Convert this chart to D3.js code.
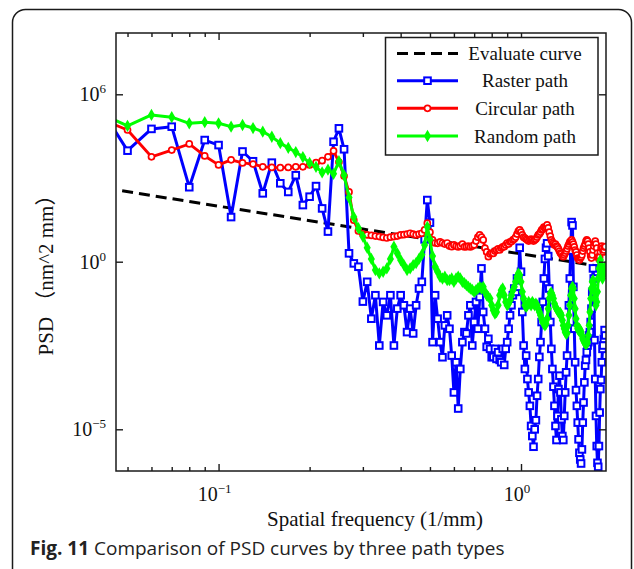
<!DOCTYPE html>
<html>
<head>
<meta charset="utf-8">
<script src="https://cdn.jsdelivr.net/npm/d3@7"></script>
<style>
  body { margin: 0; background: #fff; }
  svg { display: block; }
</style>
</head>
<body>
<svg id="chart" width="634" height="569"></svg>
<script>
// Sampling grid of the spectra (1/mm)
const freqStart = 0.04;
const freqStep = 0.01;

// log10 PSD (nm^2 mm) for each path type, one value per frequency sample
const rasterPath = [
  5.65, 3.98, 4.76, 4.84, 2.67, 4.36, 4.18, 1.6, 3.95, 3.6,
  2.45, 3.55, 2.81, 2.5, 3.1, 2.03, 2.33, 2.71, 1.91, 1.08,
  4.3, 4.78, 4.03, 0.3, -0.05, -0.15, -1.19, -0.6, -1.7, -1.0,
  -2.5, -1.2, -1.6, -1.0, -2.5, -1.4, -1.0, -1.3, -2.1, -1.4,
  -2.14, -1.3, -0.8, -0.6, 0.8, 2.21, 1.4, -2.4, -1.0, -1.7,
  -2.4, -2.85, -1.9, -1.6, -2.0, -2.8, -3.9, -3.0, -4.38, -3.2,
  -2.4, -2.1, -2.14, -1.6, -1.3, -2.5, -1.8, -1.2, -2.0, -1.05,
  -0.2, -1.5, -2.0, -2.54, -2.3, -2.6, -2.85, -2.84, -2.6, -2.9,
  -2.7, -2.93, -3.0, -2.6, -3.08, -2.6, -2.4, -2.0, -1.6, -1.3,
  -1.0, -0.8, -0.9, -0.5, -0.75, 0.5, -0.3, -1.5, -2.5, -3.2,
  -2.8, -3.5, -3.9, -4.3, -4.9, -5.2, -5.52, -5.0, -4.73, -4.0,
  -3.5, -2.84, -2.4, -1.8, -1.2, -0.5, 0.1, 0.5, 0.66, 0.2,
  -0.8, -1.8, -2.6, -3.2, -3.73, -4.3, -4.9, -5.32, -4.6, -3.8,
  -3.4, -3.9, -4.7, -5.2, -5.32, -4.6, -3.9, -3.3, -2.8, -2.0,
  -1.3, -0.5, 0.4, 1.42, 1.3, -0.75, -2.0, -3.0, -3.83, -4.3,
  -4.8, -5.3, -5.7, -5.9, -6.02, -5.6, -4.8, -4.2, -3.6, -3.1,
  -2.93, -2.7, -2.5, -2.4, -2.2, -2.1, -1.8, -1.4, -0.9, -0.2,
  -0.5, -2.34, -3.5, -4.6, -5.5, -6.0, -6.12, -5.5, -4.5, -3.8,
  -3.53, -3.0, -2.6, -2.5, -2.3, -2.04, -2.2
];

const circularPath = [
  5.15, 4.72, 3.76, 4.0, 4.22, 3.79, 3.47, 3.65, 3.54, 3.50,
  3.40, 3.38, 3.37, 3.38, 3.40, 3.40, 3.47, 3.55, 3.62, 3.76,
  3.97, 3.57, 3.07, 2.50, 1.49, 1.10, 0.99, 0.96, 0.94, 0.92,
  0.90, 0.87, 0.85, 0.88, 0.90, 0.92, 0.96, 0.97, 0.99, 1.02,
  0.99, 0.96, 0.99, 1.02, 1.14, 1.38, 1.06, 0.78, 0.67, 0.66,
  0.71, 0.67, 0.63, 0.67, 0.56, 0.54, 0.60, 0.56, 0.53, 0.56,
  0.63, 0.53, 0.54, 0.56, 0.53, 0.56, 0.60, 0.74, 0.88, 0.96,
  0.88, 0.78, 0.49, 0.35, 0.18, 0.28, 0.31, 0.30, 0.38, 0.42,
  0.46, 0.42, 0.49, 0.53, 0.54, 0.60, 0.67, 0.63, 0.71, 0.72,
  0.78, 0.81, 0.88, 0.99, 1.10, 1.14, 1.06, 0.96, 0.88, 0.85,
  0.81, 0.78, 0.74, 0.78, 0.81, 0.78, 0.74, 0.78, 0.81, 0.88,
  0.96, 0.99, 1.06, 1.14, 1.17, 1.24, 1.21, 1.25, 1.32, 1.21,
  1.06, 0.92, 0.78, 0.71, 0.66, 0.60, 0.63, 0.56, 0.53, 0.46,
  0.38, 0.31, 0.28, 0.20, 0.18, 0.24, 0.31, 0.38, 0.46, 0.56,
  0.63, 0.71, 0.74, 0.78, 0.71, 0.63, 0.53, 0.42, 0.35, 0.24,
  0.13, 0.10, 0.06, 0.13, 0.17, 0.24, 0.38, 0.49, 0.56, 0.63,
  0.74, 0.78, 0.74, 0.63, 0.49, 0.35, 0.20, 0.13, 0.24, 0.42,
  0.56, 0.67, 0.74, 0.63, 0.49, 0.31, 0.17, 0.10, 0.17, 0.35,
  0.49, 0.56, 0.49, 0.35, 0.42, 0.53, 0.54
];

const randomPath = [
  5.35, 4.87, 5.26, 5.18, 4.96, 5.00, 4.96, 4.84, 4.90, 4.79,
  4.66, 4.48, 4.25, 4.08, 3.93, 3.75, 3.54, 3.40, 3.20, 3.30,
  3.15, 3.60, 3.10, 2.30, 1.60, 1.20, 0.90, 0.50, 0.10, -0.25,
  -0.35, -0.30, -0.20, 0.10, 0.54, 0.30, 0.06, -0.10, -0.25, -0.20,
  -0.10, -0.04, 0.10, 0.25, 0.60, 1.25, 0.80, 0.20, -0.15, -0.30,
  -0.45, -0.50, -0.45, -0.55, -0.55, -0.50, -0.60, -0.50, -0.45, -0.50,
  -0.60, -0.64, -0.70, -0.75, -0.80, -0.84, -0.90, -0.85, -0.80, -0.75,
  -0.80, -0.75, -0.90, -1.00, -1.05, -1.10, -1.30, -1.45, -1.55, -1.50,
  -1.30, -1.00, -0.85, -0.80, -1.00, -1.20, -1.30, -1.25, -1.15, -1.00,
  -0.85, -0.75, -0.60, -0.45, -0.35, -0.40, -0.60, -0.90, -1.10, -1.30,
  -1.35, -1.30, -1.20, -1.25, -1.30, -1.20, -1.25, -1.30, -1.25, -1.30,
  -1.40, -1.50, -1.60, -1.70, -1.80, -1.85, -1.90, -1.85, -1.70, -1.40,
  -1.10, -0.95, -0.93, -1.00, -1.10, -1.25, -1.35, -1.40, -1.45, -1.50,
  -1.55, -1.53, -1.60, -1.75, -1.90, -2.00, -2.10, -2.15, -2.13, -1.90,
  -1.60, -1.30, -1.00, -0.80, -0.75, -0.80, -1.10, -1.40, -1.70, -1.90,
  -2.00, -2.05, -2.00, -2.04, -2.10, -2.20, -2.30, -2.35, -2.40, -2.45,
  -2.43, -2.45, -2.40, -2.20, -1.90, -1.50, -1.10, -0.80, -0.60, -0.55,
  -0.70, -0.90, -1.10, -1.30, -1.20, -0.90, -0.50, -0.20, 0.00, 0.06,
  -0.10, -0.30, -0.50, -0.40, -0.30, -0.20, -0.15
];

// Reference power-law curve: [frequency, log10 PSD]
const evaluateCurve = [[0.048, 2.54], [0.1, 1.99], [0.3, 1.17], [1, 0.28], [1.8, -0.13]];

// Axis ticks
const xMajorTicks = [0.1, 1];
const xMajorLabels = ["\u22121", "0"];
const xMinorTicks = [0.05, 0.06, 0.07, 0.08, 0.09, 0.2, 0.3, 0.4, 0.5, 0.6, 0.7, 0.8, 0.9];
const yTicks = [6, 0, -5];
const yTickLabels = ["6", "0", "\u22125"];

const legendNames = ["Evaluate curve", "Raster path", "Circular path", "Random path"];
const seriesColors = { raster: "#0000ff", circular: "#ff0000", random: "#00ff00" };

const svg = d3.select("#chart");
const plot = { left: 116, right: 606, top: 33, bottom: 471 };

const x = d3.scaleLog().domain([0.0458, 1.91]).range([plot.left, plot.right]);
// Decade positions of the printed y axis
const y = d3.scaleLinear().domain([-5, 0, 6]).range([429.3, 261.7, 94.3]);

const serif = "'Liberation Serif', 'Times New Roman', serif";

// outer figure panel
svg.append("rect")
  .attr("x", 12.5).attr("y", 9.5)
  .attr("width", 619).attr("height", 600)
  .attr("rx", 13).attr("ry", 13)
  .attr("fill", "none").attr("stroke", "#1a1a1a").attr("stroke-width", 1.5);

svg.append("clipPath").attr("id", "plot-clip")
  .append("rect")
  .attr("x", plot.left).attr("y", plot.top)
  .attr("width", plot.right - plot.left).attr("height", plot.bottom - plot.top);

const toRows = vals => vals.map((v, i) => [freqStart + i * freqStep, v]);
const line = d3.line().x(d => x(d[0])).y(d => y(d[1]));

const g = svg.append("g").attr("clip-path", "url(#plot-clip)");

// Evaluate curve
g.append("path")
  .datum(evaluateCurve)
  .attr("d", line)
  .attr("fill", "none").attr("stroke", "#000").attr("stroke-width", 3)
  .attr("stroke-dasharray", "11,6");

// Raster path
const rasterRows = toRows(rasterPath);
g.append("path").datum(rasterRows).attr("d", line)
  .attr("fill", "none").attr("stroke", seriesColors.raster).attr("stroke-width", 3)
  .attr("stroke-linejoin", "round");
g.append("g").selectAll("rect").data(rasterRows).join("rect")
  .attr("x", d => x(d[0]) - 3.3).attr("y", d => y(d[1]) - 3.3)
  .attr("width", 6.6).attr("height", 6.6)
  .attr("fill", "#fff").attr("stroke", seriesColors.raster).attr("stroke-width", 2);

// Circular path
const circularRows = toRows(circularPath);
g.append("path").datum(circularRows).attr("d", line)
  .attr("fill", "none").attr("stroke", seriesColors.circular).attr("stroke-width", 2.8)
  .attr("stroke-linejoin", "round");
g.append("g").selectAll("circle").data(circularRows).join("circle")
  .attr("cx", d => x(d[0])).attr("cy", d => y(d[1])).attr("r", 3)
  .attr("fill", "#fff").attr("stroke", seriesColors.circular).attr("stroke-width", 1.7);

// Random path
const randomRows = toRows(randomPath);
const diamond = d3.symbol().type(d3.symbolDiamond).size(44);
g.append("path").datum(randomRows).attr("d", line)
  .attr("fill", "none").attr("stroke", seriesColors.random).attr("stroke-width", 3)
  .attr("stroke-linejoin", "round");
g.append("g").selectAll("path").data(randomRows).join("path")
  .attr("transform", d => `translate(${x(d[0])},${y(d[1])})`)
  .attr("d", diamond)
  .attr("fill", seriesColors.random);

// Frame and inward ticks
const axisColor = "#1a1a1a";
function styleAxis(sel) {
  sel.select(".domain").remove();
  sel.selectAll("line").attr("stroke", axisColor).attr("stroke-width", 1.4);
  sel.selectAll("text").remove();
}
svg.append("g").attr("transform", `translate(0,${plot.bottom})`)
  .call(d3.axisBottom(x).tickValues(xMinorTicks).tickSize(-4).tickFormat("")).call(styleAxis);
svg.append("g").attr("transform", `translate(0,${plot.bottom})`)
  .call(d3.axisBottom(x).tickValues(xMajorTicks).tickSize(-7).tickFormat("")).call(styleAxis);
svg.append("g").attr("transform", `translate(0,${plot.top})`)
  .call(d3.axisTop(x).tickValues(xMinorTicks).tickSize(-4).tickFormat("")).call(styleAxis);
svg.append("g").attr("transform", `translate(0,${plot.top})`)
  .call(d3.axisTop(x).tickValues(xMajorTicks).tickSize(-7).tickFormat("")).call(styleAxis);
svg.append("g").attr("transform", `translate(${plot.left},0)`)
  .call(d3.axisLeft(y).tickValues(yTicks).tickSize(-7).tickFormat("")).call(styleAxis);
svg.append("g").attr("transform", `translate(${plot.right},0)`)
  .call(d3.axisRight(y).tickValues(yTicks).tickSize(-7).tickFormat("")).call(styleAxis);

svg.append("rect")
  .attr("x", plot.left).attr("y", plot.top)
  .attr("width", plot.right - plot.left).attr("height", plot.bottom - plot.top)
  .attr("fill", "none").attr("stroke", axisColor).attr("stroke-width", 1.5);

// Tick labels as powers of ten
function powerLabel(sel, exp) {
  sel.append("tspan").text("10");
  sel.append("tspan").attr("font-size", 13).attr("dy", -8).text(exp);
}
xMajorTicks.forEach((v, i) => {
  svg.append("text")
    .attr("x", x(v) - 4).attr("y", 501)
    .attr("text-anchor", "middle")
    .attr("font-family", serif).attr("font-size", 20).attr("fill", "#111")
    .call(powerLabel, xMajorLabels[i]);
});
yTicks.forEach((v, i) => {
  svg.append("text")
    .attr("x", 106).attr("y", y(v) + 7)
    .attr("text-anchor", "end")
    .attr("font-family", serif).attr("font-size", 20).attr("fill", "#111")
    .call(powerLabel, yTickLabels[i]);
});

// Axis titles
svg.append("text")
  .attr("x", 375).attr("y", 526)
  .attr("text-anchor", "middle")
  .attr("font-family", serif).attr("font-size", 21).attr("fill", "#111")
  .text("Spatial frequency (1/mm)");

svg.append("text")
  .attr("transform", "translate(53,270) rotate(-90)")
  .attr("text-anchor", "middle")
  .attr("font-family", serif + ", 'Noto Sans CJK SC'").attr("font-size", 21).attr("fill", "#111")
  .text("PSD \uFF08nm^2 mm\uFF09");

// Legend
const legend = svg.append("g");
legend.append("rect")
  .attr("x", 385.5).attr("y", 37.5).attr("width", 212.5).attr("height", 117.5)
  .attr("fill", "#fff").attr("stroke", axisColor).attr("stroke-width", 1.5);
const rowY = [53.5, 80.7, 108.3, 136];
const lx0 = 397, lx1 = 458, lxm = 427.5;
legend.append("line").attr("x1", lx0).attr("x2", lx1).attr("y1", rowY[0]).attr("y2", rowY[0])
  .attr("stroke", "#000").attr("stroke-width", 3).attr("stroke-dasharray", "11,6");
legend.append("line").attr("x1", lx0).attr("x2", lx1).attr("y1", rowY[1]).attr("y2", rowY[1])
  .attr("stroke", seriesColors.raster).attr("stroke-width", 3);
legend.append("rect").attr("x", lxm - 3.3).attr("y", rowY[1] - 3.3).attr("width", 6.6).attr("height", 6.6)
  .attr("fill", "#fff").attr("stroke", seriesColors.raster).attr("stroke-width", 2);
legend.append("line").attr("x1", lx0).attr("x2", lx1).attr("y1", rowY[2]).attr("y2", rowY[2])
  .attr("stroke", seriesColors.circular).attr("stroke-width", 3);
legend.append("circle").attr("cx", lxm).attr("cy", rowY[2]).attr("r", 3)
  .attr("fill", "#fff").attr("stroke", seriesColors.circular).attr("stroke-width", 1.7);
legend.append("line").attr("x1", lx0).attr("x2", lx1).attr("y1", rowY[3]).attr("y2", rowY[3])
  .attr("stroke", seriesColors.random).attr("stroke-width", 3);
legend.append("path").attr("transform", `translate(${lxm},${rowY[3]})`).attr("d", diamond)
  .attr("fill", seriesColors.random);
legendNames.forEach((name, i) => {
  legend.append("text")
    .attr("x", 525).attr("y", rowY[i] + 6.5)
    .attr("text-anchor", "middle")
    .attr("font-family", serif).attr("font-size", 19).attr("fill", "#111")
    .text(name);
});

// Figure caption
const caption = svg.append("text")
  .attr("x", 30).attr("y", 555)
  .attr("font-family", "'Open Sans', 'Noto Sans', sans-serif").attr("font-size", 19).attr("fill", "#222");
caption.append("tspan").attr("font-weight", 700).text("Fig. 11");
caption.append("tspan").text(" Comparison of PSD curves by three path types");
</script>
</body>
</html>
